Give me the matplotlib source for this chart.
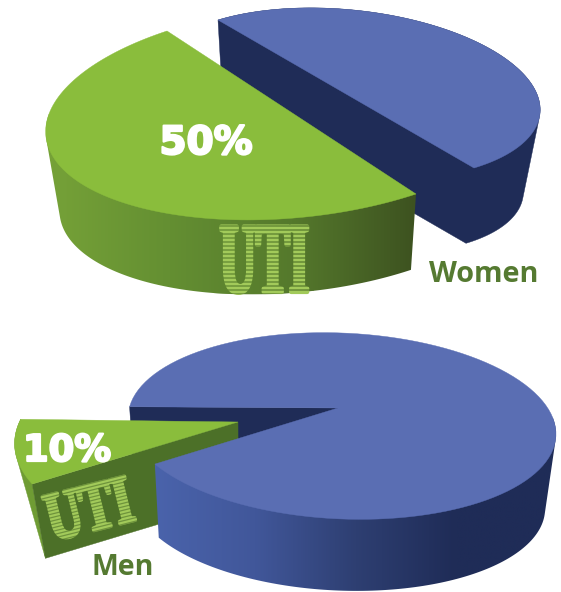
"""
Exploded 3D pie charts of UTI share in women and men, built from patches.
"""

import numpy as np
import matplotlib
matplotlib.use("Agg")
import matplotlib.pyplot as plt
from matplotlib.colors import LinearSegmentedColormap
from matplotlib.patches import Polygon
from matplotlib.patheffects import AbstractPathEffect, withStroke
from matplotlib.transforms import Affine2D

# share of UTI vs everything else
women_shares = [50, 50]
men_shares = [10, 90]
condition_label = "UTI"
group_labels = ["Women", "Men"]

GREEN_TOP = "#8abd3c"
GREEN_SIDE = "#6f9c34"
GREEN_FRONT = "#4c7028"
BLUE_TOP = "#5a6eb3"
NAVY = "#1f2c57"
LABEL_GREEN = "#557a31"
STRIPE_TEXT = "#a2ca5a"

green_wall = LinearSegmentedColormap.from_list(
    "green_wall", ["#76a238", "#648f32", "#55792c", "#3d5220"]
)
blue_wall = LinearSegmentedColormap.from_list(
    "blue_wall", ["#4a63ab", "#41579a", "#2e3f72", "#1f2c57", "#1f2c57"]
)


class Condensed(AbstractPathEffect):
    """Squeeze glyphs horizontally and fatten them, the fonts here have no narrow slab."""

    def __init__(self, sx, weight):
        super().__init__()
        self.sx = sx
        self.weight = weight

    def draw_path(self, renderer, gc, tpath, affine, rgbFace=None):
        gc0 = renderer.new_gc()
        gc0.copy_properties(gc)
        gc0.set_linewidth(self.weight)
        gc0.set_foreground(rgbFace)
        renderer.draw_path(gc0, tpath, Affine2D().scale(self.sx, 1) + affine, rgbFace)
        gc0.restore()


def convex_hull(pts):
    order = sorted(map(tuple, pts))

    def half(seq):
        out = []
        for p in seq:
            while len(out) > 1 and np.cross(np.subtract(out[-1], out[-2]), np.subtract(p, out[-2])) <= 0:
                out.pop()
            out.append(p)
        return out[:-1]

    return np.array(half(order) + half(order[::-1]))


class Slice:
    """A pie slice: ellipse rim, apex, and a smaller ellipse shifted down for the base."""

    def __init__(self, apex, centre, u, v, start, share, base):
        self.apex = np.array(apex, float)
        self.centre = np.array(centre, float)
        self.u = np.array(u, float)
        self.v = np.array(v, float)
        self.start = start
        self.sweep = share / 100 * 360
        self.su, self.sv, self.dx, self.depth = base

    def rim(self, a0, a1, n=120):
        a = np.radians(np.linspace(a0, a1, n))
        return self.centre + np.outer(np.cos(a), self.u) + np.outer(np.sin(a), self.v)

    def base(self, a0, a1, n=120):
        a = np.radians(np.linspace(a0, a1, n))
        return (self.centre + [self.dx, self.depth]
                + np.outer(np.cos(a), self.u * self.su) + np.outer(np.sin(a), self.v * self.sv))

    def base_apex(self):
        return self.centre + (self.apex - self.centre) * self.su + [self.dx, self.depth]

    def top(self):
        return np.vstack([self.apex, self.rim(self.start, self.start + self.sweep)])

    def wall(self, a0, a1, base_end=None):
        # silhouette of the side: hull of the upper rim and the base
        base_end = a1 if base_end is None else base_end
        return convex_hull(np.vstack([self.rim(a0, a1), self.base(a0, base_end)]))

    def cut(self, angle):
        return np.vstack([self.apex, self.rim(angle, angle, 1),
                          self.base(angle, angle, 1), self.base_apex()])


def fill(ax, pts, color, z):
    ax.add_patch(Polygon(pts, closed=True, facecolor=color, edgecolor=color, lw=0.3, zorder=z))


def gradient_wall(ax, pts, cmap, x0, x1, z):
    img = ax.imshow(
        np.linspace(0, 1, 256)[None, :],
        cmap=cmap,
        extent=(x0, x1, pts[:, 1].max(), pts[:, 1].min()),
        aspect="auto",
        zorder=z,
    )
    img.set_clip_path(Polygon(pts, closed=True, transform=ax.transData))


fig = plt.figure(figsize=(5.61, 5.92), dpi=100)
ax = fig.add_axes([0, 0, 1, 1])
bold_white = [withStroke(linewidth=1.6, foreground="white")]

# Women: two half pies pulled apart
w_green = Slice((291.5, 112.5), (291.5, 112.5), (124.5, 81.5), (-212, 70), 0, women_shares[0], (0.949, 0.949, 1.3, 80))
w_blue = Slice((346, 94), (346, 94), (128, 74), (146, -44), 0, women_shares[1], (0.95, 0.9, -1.6, 79))

fill(ax, w_blue.wall(0, 180), NAVY, 1)
fill(ax, w_blue.top(), BLUE_TOP, 2)

wall = w_green.wall(0, 130)
gradient_wall(ax, wall, green_wall, 46, 416, 3)
fill(ax, w_green.top(), GREEN_TOP, 4)

ax.text(206, 143, f"{women_shares[0]}%", color="white", fontsize=28, fontweight="bold",
        family="DejaVu Sans", ha="center", va="center", zorder=6, path_effects=bold_white)
ax.text(220, 292, condition_label, color=STRIPE_TEXT, fontsize=72, fontweight="bold",
        family="Liberation Serif", ha="left", va="baseline", zorder=5,
        path_effects=[Condensed(0.5, 3)])

# stripes across the lettering, painted in the wall gradient so they only show on the glyphs
rows = np.arange(72)
cols = np.linspace((214 - 46) / 370, (314 - 46) / 370, 100)
stripes = green_wall(np.tile(cols, (len(rows), 1)))
stripes[..., 3] = (rows % 4 < 2).astype(float)[:, None] * 0.6
img = ax.imshow(stripes, extent=(214, 314, 297, 225), aspect="auto", zorder=5.5, interpolation="nearest")
img.set_clip_path(Polygon(wall, closed=True, transform=ax.transData))

ax.text(429, 282, group_labels[0], color=LABEL_GREEN, fontsize=20.8, fontweight="bold",
        family="Open Sans", ha="left", va="baseline", zorder=6)

# Men: large blue pie with a thin slice pulled out to the left
m_blue = Slice((338, 408), (342, 426), (214, 8), (0, 93), 187, men_shares[1], (0.963, 0.963, -3, 75))
m_green = Slice((238, 422), (242, 441), (226, 9), (-25, 105), 151, men_shares[0], (0.937, 0.937, 0, 77))

fill(ax, m_blue.cut(187), NAVY, 7)

fill(ax, m_green.wall(151, 187, base_end=151), GREEN_SIDE, 8)
fill(ax, m_green.cut(151), GREEN_FRONT, 8.5)
fill(ax, m_green.top(), GREEN_TOP, 9)

ax.text(23, 461, f"{men_shares[0]}%", color="white", fontsize=26.5, fontweight="bold",
        family="DejaVu Sans", ha="left", va="baseline", zorder=13, path_effects=bold_white)
ax.text(52, 541, condition_label, color=STRIPE_TEXT, fontsize=50, fontweight="bold",
        family="Liberation Serif", ha="left", va="baseline", rotation=14,
        rotation_mode="anchor", zorder=10, path_effects=[Condensed(0.71, 2.4)])

# tilted stripes for the smaller lettering
tilt = np.radians(14)
along = np.array([np.cos(tilt), -np.sin(tilt)])
across = np.array([np.sin(tilt), np.cos(tilt)])
for off in np.arange(-50, 4, 3.4):
    p0 = np.array([52.0, 541.0]) + across * off - along * 4
    p1 = p0 + along * 100
    ax.plot([p0[0], p1[0]], [p0[1], p1[1]], color=GREEN_FRONT, lw=0.9, alpha=0.6, zorder=10.5,
            solid_capstyle="butt")

# blue sits in front of the green cut face
wall = m_blue.wall(350, 511)
gradient_wall(ax, wall, blue_wall, 155, 556, 11)
fill(ax, m_blue.top(), BLUE_TOP, 12)

ax.text(92, 575, group_labels[1], color=LABEL_GREEN, fontsize=20.5, fontweight="bold",
        family="Open Sans", ha="left", va="baseline", zorder=13)

ax.set_xlim(0, 561)
ax.set_ylim(592, 0)
ax.axis("off")
fig.savefig("out.png", dpi=100, facecolor="white")
plt.close(fig)
